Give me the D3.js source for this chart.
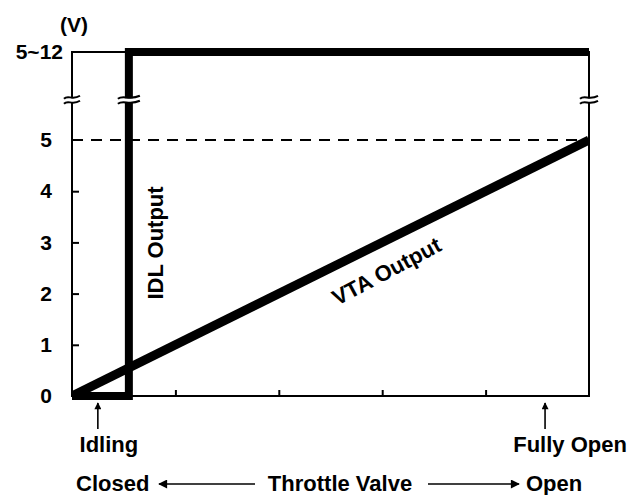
<!DOCTYPE html>
<html>
<head>
<meta charset="utf-8">
<script src="https://cdn.jsdelivr.net/npm/d3@7"></script>
<style>
  html, body { margin: 0; padding: 0; background: #fff; }
  svg { display: block; }
  text { font-family: "Liberation Sans", Arial, Helvetica, sans-serif; font-weight: bold; fill: #000; }
</style>
</head>
<body>
<svg id="chart" width="629" height="495"></svg>
<script>
// Throttle opening (%) and sensor output voltages
const vtaThrottle = [0, 100];
const vtaVolts = [0, 5];
const idlThrottle = [0, 11, 11, 100];
const idlVolts = [0, 0, 12, 12];

// Vertical axis: 0–5 V linear, then a broken segment up to the 5~12 V level
const voltTicks = [0, 1, 2, 3, 4, 5, 12];
const voltLabels = ["0", "1", "2", "3", "4", "5", "5~12"];
const breakVolt = 8.2;

// Horizontal axis: unlabeled graduation marks
const throttleTicks = [20, 40, 60, 80];

// Marked throttle positions
const markerNames = ["Idling", "Fully Open"];
const markerThrottle = [5, 91.5];

const svg = d3.select("#chart");
const left = 72, right = 589;

const x = d3.scaleLinear().domain([0, 100]).range([left, right]);
const y = d3.scaleLinear().domain([0, 5, 12]).range([396, 140, 52]);

svg.append("clipPath").attr("id", "plot")
  .append("rect")
  .attr("x", x(0)).attr("y", y(12) - 10)
  .attr("width", x(100) - x(0)).attr("height", y(0) - y(12) + 14);

// 5 V reference line
svg.append("line")
  .attr("x1", x(0)).attr("x2", x(100))
  .attr("y1", y(5)).attr("y2", y(5))
  .attr("stroke", "#000").attr("stroke-width", 2)
  .attr("stroke-dasharray", "11,8");

// Frame
svg.append("rect")
  .attr("x", x(0)).attr("y", y(12))
  .attr("width", x(100) - x(0)).attr("height", y(0) - y(12))
  .attr("fill", "none").attr("stroke", "#000").attr("stroke-width", 2);

// Y axis: inward ticks for 1–4 V, labels for all levels
const yAxis = svg.append("g")
  .attr("transform", `translate(${x(0)},0)`)
  .call(d3.axisLeft(y).tickValues(voltTicks)
    .tickFormat((d, i) => voltLabels[i])
    .tickSizeInner(-7).tickSizeOuter(0).tickPadding(20));
yAxis.select(".domain").remove();
yAxis.selectAll(".tick line")
  .attr("stroke", "#000").attr("stroke-width", 2)
  .attr("display", d => (d >= 1 && d <= 4) ? null : "none");
yAxis.selectAll(".tick text")
  .attr("font-size", 21).attr("font-family", null)
  .attr("dx", d => d === 12 ? 11 : 0);

// X axis: inward ticks only
const xAxis = svg.append("g")
  .attr("transform", `translate(0,${y(0)})`)
  .call(d3.axisBottom(x).tickValues(throttleTicks)
    .tickFormat("").tickSizeInner(-6).tickSizeOuter(0));
xAxis.select(".domain").remove();
xAxis.selectAll(".tick line").attr("stroke", "#000").attr("stroke-width", 2);

// Unit label
svg.append("text").attr("x", 74).attr("y", 32)
  .attr("text-anchor", "middle").attr("font-size", 21).text("(V)");

const line = d3.line().x(d => x(d[0])).y(d => y(d[1]));

// VTA output: linear 0 → 5 V
svg.append("path")
  .datum(d3.zip(vtaThrottle, vtaVolts))
  .attr("d", line)
  .attr("clip-path", "url(#plot)")
  .attr("fill", "none").attr("stroke", "#000").attr("stroke-width", 9);

// IDL output: low at idle, switches high once the throttle opens
svg.append("path")
  .datum(d3.zip(idlThrottle, idlVolts))
  .attr("d", line)
  .attr("clip-path", "url(#plot)")
  .attr("fill", "none").attr("stroke", "#000").attr("stroke-width", 8)
  .attr("stroke-linejoin", "miter");

// Axis break marks on the left axis, IDL riser and right axis
const breaks = [
  { t: 0, w: 16 },
  { t: idlThrottle[1], w: 22 },
  { t: 100, w: 18 }
];
const by = y(breakVolt);
const tilde = (cx, cy, w) => {
  const h = w / 2;
  return `M${cx - h},${cy + 1.5} C${cx - h / 2},${cy - 3} ${cx},${cy + 3.5} ${cx + h},${cy - 1.5}`;
};
breaks.forEach(b => {
  const cx = x(b.t);
  svg.append("rect")
    .attr("x", cx - b.w / 2).attr("y", by - 1.5)
    .attr("width", b.w).attr("height", 4).attr("fill", "#fff");
  [-2.5, 2.5].forEach(off => {
    svg.append("path")
      .attr("d", tilde(cx, by + off, b.w))
      .attr("fill", "none").attr("stroke", "#000").attr("stroke-width", 2);
  });
});

// Series labels
svg.append("text")
  .attr("transform", `translate(163,243) rotate(-90)`)
  .attr("text-anchor", "middle").attr("font-size", 22)
  .text("IDL Output");

svg.append("text")
  .attr("transform", `translate(390,278) rotate(-28)`)
  .attr("text-anchor", "middle").attr("font-size", 22)
  .text("VTA Output");

// Arrowheads
const defs = svg.append("defs");
defs.append("marker").attr("id", "headSmall")
  .attr("viewBox", "0 0 10 10").attr("refX", 9).attr("refY", 5)
  .attr("markerWidth", 13).attr("markerHeight", 7).attr("markerUnits", "userSpaceOnUse")
  .attr("orient", "auto")
  .append("path").attr("d", "M0,0 L10,5 L0,10 Z").attr("fill", "#000");
defs.append("marker").attr("id", "headWide")
  .attr("viewBox", "0 0 10 10").attr("refX", 9).attr("refY", 5)
  .attr("markerWidth", 17).attr("markerHeight", 9).attr("markerUnits", "userSpaceOnUse")
  .attr("orient", "auto")
  .append("path").attr("d", "M0,0 L10,5 L0,10 Z").attr("fill", "#000");

// Position markers under the axis
markerNames.forEach((name, i) => {
  const mx = x(markerThrottle[i]);
  svg.append("line")
    .attr("x1", mx).attr("x2", mx).attr("y1", 429).attr("y2", 403)
    .attr("stroke", "#000").attr("stroke-width", 1.6)
    .attr("marker-end", "url(#headSmall)");
  svg.append("text")
    .attr("x", mx).attr("y", 452)
    .attr("text-anchor", "middle").attr("font-size", 22)
    .attr("dx", i === 0 ? 11 : 25)
    .text(name);
});

// Direction caption
svg.append("text").attr("x", 76).attr("y", 491).attr("font-size", 22).text("Closed");
svg.append("text").attr("x", 340).attr("y", 491).attr("text-anchor", "middle").attr("font-size", 22).text("Throttle Valve");
svg.append("text").attr("x", 526).attr("y", 491).attr("font-size", 22).text("Open");
svg.append("line")
  .attr("x1", 255).attr("x2", 159).attr("y1", 484).attr("y2", 484)
  .attr("stroke", "#000").attr("stroke-width", 1.6)
  .attr("marker-end", "url(#headWide)");
svg.append("line")
  .attr("x1", 428).attr("x2", 519).attr("y1", 484).attr("y2", 484)
  .attr("stroke", "#000").attr("stroke-width", 1.6)
  .attr("marker-end", "url(#headWide)");
</script>
</body>
</html>
